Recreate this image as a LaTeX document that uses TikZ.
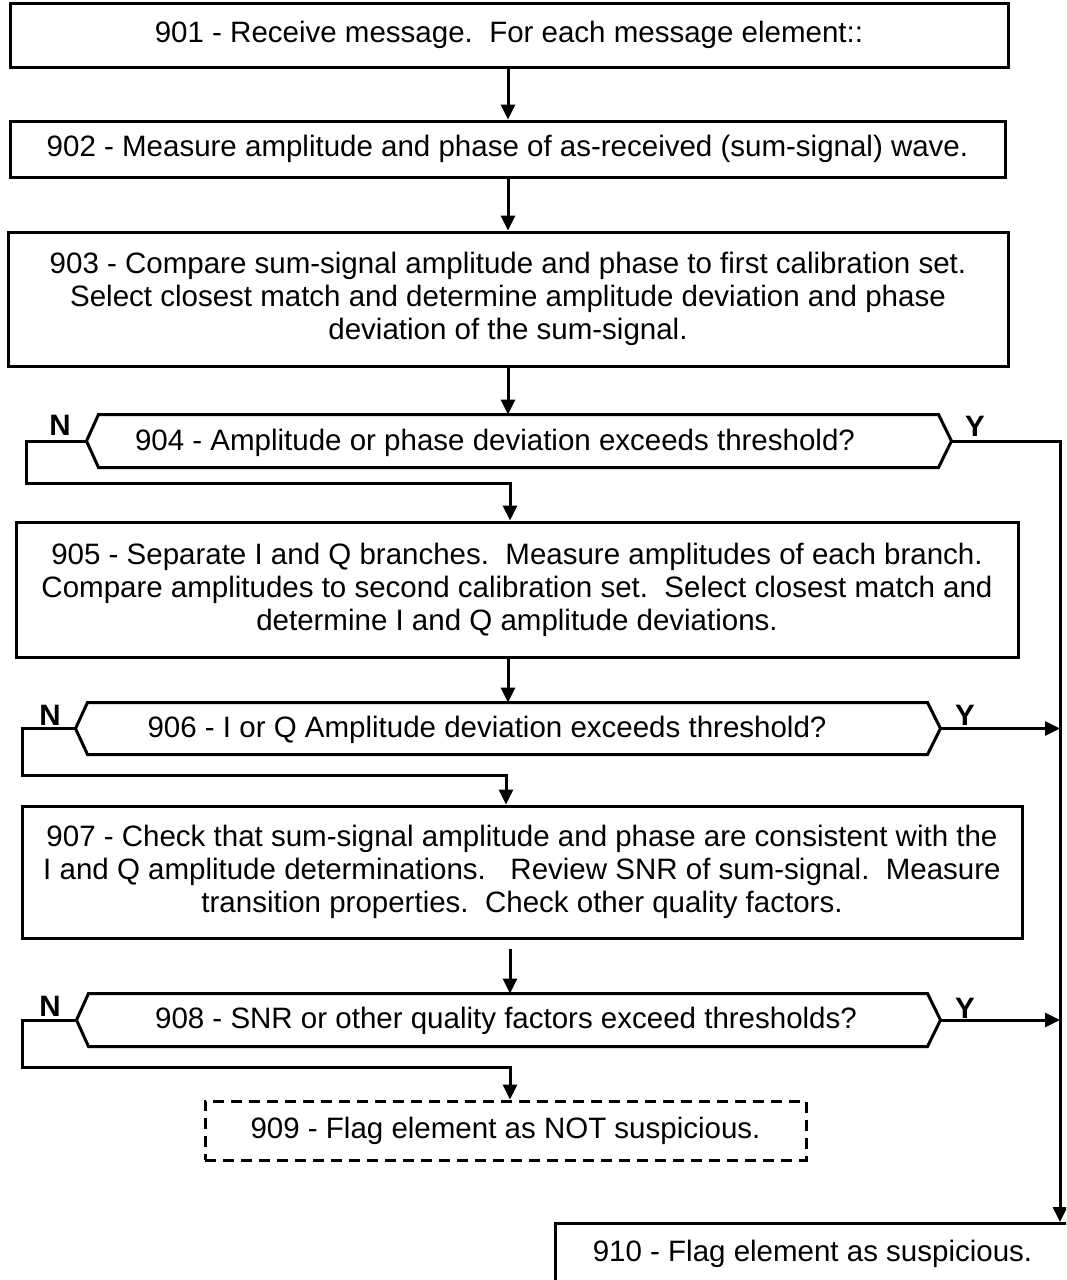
\documentclass[tikz,border=0pt]{standalone}
\usepackage{fontspec}
\setmainfont{Liberation Sans}
\usetikzlibrary{arrows.meta,calc}
\newcommand{\fcfont}{\fontsize{29.5}{33}\selectfont}
\begin{document}
\begin{tikzpicture}[x=1pt,y=-1pt,
  line width=3pt,
  box/.style={draw, rectangle, inner sep=0pt, align=center, font=\fcfont},
  dbox/.style={box, dash pattern=on 11pt off 7pt},
  hexframe/.style={rectangle, inner sep=0pt},
  txt/.style={inner sep=0pt, align=center, font=\fcfont},
  arr/.style={-{Triangle[width=14pt,length=15pt]}},
  yn/.style={inner sep=0pt, font=\fcfont\bfseries}
]
\clip (0,0) rectangle (1066,1280);
% helper coordinates
\coordinate (c508) at (508,0);
\coordinate (c510) at (510,0);
\coordinate (c506) at (506,0);
\coordinate (vr) at (1060,441);

% process boxes
\node[box, minimum width=998pt, minimum height=64pt] (n901) at (509,35)
  {901 - Receive message.\ \ For each message element::};
\node[box, minimum width=995pt, minimum height=56pt] (n902) at (507.5,149)
  {902 - Measure amplitude and phase of as-received (sum-signal) wave.};
\node[box, minimum width=1000pt, minimum height=134pt] (n903) at (508,299)
  {903 - Compare sum-signal amplitude and phase to first calibration set.\\
   Select closest match and determine amplitude deviation and phase\\
   deviation of the sum-signal.};
\node[box, minimum width=1002pt, minimum height=135pt] (n905) at (517,589.5)
  {905 - Separate I and Q branches.\ \ Measure amplitudes of each branch.\\
   Compare amplitudes to second calibration set.\ \ Select closest match and\\
   determine I and Q amplitude deviations.};
\node[box, minimum width=1000pt, minimum height=132pt] (n907) at (522,872)
  {907 - Check that sum-signal amplitude and phase are consistent with the\\
   I and Q amplitude determinations.\ \ \ Review SNR of sum-signal.\ \ Measure\\
   transition properties.\ \ Check other quality factors.};
\node[dbox, minimum width=601pt, minimum height=59pt] (n909) at (505.5,1130.5)
  {909 - Flag element as NOT suspicious.};
\node[box, minimum width=514pt, minimum height=60pt, anchor=north west] (n910) at (554,1222)
  {910 - Flag element as suspicious.};

% decision hexagons
\node[hexframe, minimum width=862pt, minimum height=50pt] (h904) at (519,441) {};
\node[hexframe, minimum width=862pt, minimum height=49pt] (h906) at (508,728.5) {};
\node[hexframe, minimum width=861pt, minimum height=50pt] (h908) at (508.5,1020) {};
\foreach \h in {h904,h906,h908}{
  \draw (\h.west) -- ([xshift=12pt]\h.north west) -- ([xshift=-13pt]\h.north east)
    -- (\h.east) -- ([xshift=-13pt]\h.south east) -- ([xshift=12pt]\h.south west) -- cycle;
}
\node[txt] (t904) at (495,443) {904 - Amplitude or phase deviation exceeds threshold?};
\node[txt] (t906) at (487,730) {906 - I or Q Amplitude deviation exceeds threshold?};
\node[txt] (t908) at (506,1021) {908 - SNR or other quality factors exceed thresholds?};

% Y / N labels
\node[yn] (N904) at (60,425) {N};
\node[yn] (Y904) at (975,426) {Y};
\node[yn] (N906) at (50,715) {N};
\node[yn] (Y906) at (965,715) {Y};
\node[yn] (N908) at (50,1006) {N};
\node[yn] (Y908) at (965,1008) {Y};

% main flow
\draw[arr] (n901.south -| c508) -- (n902.north -| c508);
\draw[arr] (n902.south -| c508) -- (n903.north -| c508);
\draw[arr] (n903.south -| c508) -- (h904.north -| c508);
\draw[arr] (n905.south -| c508) -- (h906.north -| c508);
\draw[arr, shorten <=9pt] (n907.south -| c510) -- (h908.north -| c510);

% N loops
\coordinate (l904) at (26,483);
\coordinate (l906) at (22,775);
\coordinate (l908) at (22,1067);
\draw[arr] (h904.west) -| (l904) -| (n905.north -| c510);
\draw[arr] (h906.west) -| (l906) -| (n907.north -| c506);
\draw[arr] (h908.west) -| (l908) -| (n909.north -| c510);

% Y branches
\draw[arr] (h904.east) -- (vr) -- (n910.north -| vr);
\draw[arr] (h906.east) -- (h906.east -| vr);
\draw[arr] (h908.east) -- (h908.east -| vr);
\end{tikzpicture}
\end{document}
